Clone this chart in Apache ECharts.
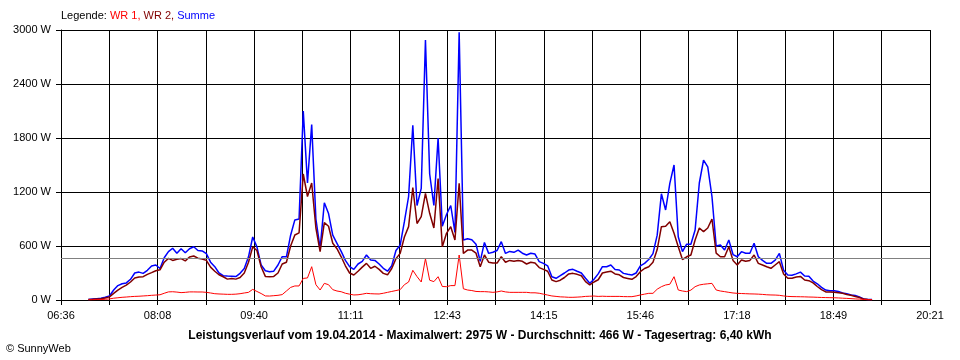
<!DOCTYPE html>
<html><head><meta charset="utf-8">
<script src="https://cdn.jsdelivr.net/npm/echarts@6/dist/echarts.min.js"></script>
<style>html,body{margin:0;padding:0;background:#fff}#c{width:960px;height:360px}</style>
</head><body><div id="c"></div>
<script>
// X axis: 06:36 .. 20:21, 18 grid steps, every second one labelled
const xTickLabels = ['06:36','08:08','09:40','11:11','12:43','14:15','15:46','17:18','18:49','20:21'];
const axisStartMin = 396;   // 06:36
const axisEndMin = 1221;    // 20:21
const axisSteps = 18;

// samples: every 4 minutes starting at 07:02
const sampleStartMin = 422;
const sampleStepMin = 4;

const seriesNames = ['WR 1', 'WR 2', 'Summe'];

const summe = [
  5,10,15,20,30,45,111,160,180,190,
  230,300,310,296,330,378,389,350,470,537,
  575,520,570,525,570,592,550,545,515,420,
  370,300,270,267,265,260,296,350,480,700,
  590,390,325,315,320,389,481,480,720,890,
  900,2100,1300,1950,900,574,1080,960,720,630,
  540,440,370,340,400,430,500,444,440,400,
  352,320,380,550,610,870,1150,1940,1050,1240,
  2890,1400,1050,1800,820,950,1050,750,2975,667,
  680,670,620,430,640,518,530,550,648,518,
  540,530,555,520,500,520,510,426,407,380,
  259,241,270,300,333,341,320,300,241,185,
  230,290,370,370,389,340,333,296,285,278,
  300,380,407,450,515,720,1180,1000,1296,1500,
  703,537,620,620,778,1300,1555,1480,1150,600,
  611,555,667,505,481,537,520,520,630,481,
  440,407,407,444,518,330,278,275,290,310,
  267,265,210,180,140,110,104,104,95,78,
  70,56,50,35,12,6,5
];
const wr2 = [
  5,8,12,15,22,35,74,110,140,165,
  200,245,255,259,285,304,325,335,420,463,
  440,452,460,435,478,489,465,455,440,365,
  320,280,258,232,238,232,250,300,420,590,
  550,370,262,259,262,300,400,420,600,722,
  745,1400,1150,1300,800,537,860,820,630,570,
  480,380,300,278,320,365,407,352,375,340,
  296,280,350,460,518,700,815,1250,850,926,
  1185,963,800,1350,592,741,815,667,1296,518,
  555,555,520,370,500,420,410,410,481,420,
  440,430,440,430,400,420,410,360,340,320,
  222,204,220,250,290,296,285,270,204,167,
  200,225,300,310,320,290,280,250,240,230,
  260,315,350,370,420,560,815,820,870,741,
  592,450,480,500,667,800,760,800,900,520,
  481,481,592,440,389,444,430,440,500,407,
  389,370,352,389,426,290,241,241,255,262,
  222,215,190,150,115,90,88,85,80,74,
  62,52,40,28,10,5,4
];
const wr1 = [
  2,3,5,5,8,12,20,25,30,33,
  37,40,42,45,48,52,55,58,75,90,
  92,88,82,85,90,90,89,89,85,78,
  70,67,65,63,63,65,70,78,85,118,
  95,72,45,44,48,52,60,100,140,156,
  156,240,245,370,170,111,185,170,115,100,
  92,75,65,56,58,65,74,70,68,67,
  75,85,95,105,115,170,200,330,260,200,
  460,220,204,259,150,148,160,160,500,125,
  111,105,95,93,93,90,85,90,100,90,
  85,85,85,85,85,80,80,75,65,55,
  45,40,35,33,30,30,32,35,40,42,
  44,40,42,40,40,40,40,38,37,37,
  45,56,65,74,74,120,148,167,175,259,
  111,100,93,110,148,167,175,180,185,111,
  100,93,85,78,74,72,70,68,67,65,
  62,58,56,55,52,45,40,38,37,36,
  35,33,32,30,28,27,26,25,23,20,
  18,15,12,10,6,4,3
];

const averageW = 466;
const chartTitle = 'Leistungsverlauf vom 19.04.2014 - Maximalwert: 2975 W - Durchschnitt: 466 W - Tagesertrag: 6,40 kWh';
const copyrightText = '\u00A9 SunnyWeb';

const stepLen = (axisEndMin - axisStartMin) / axisSteps;
function toAxis(min) { return (min - axisStartMin) / stepLen; }
function build(values) {
  return values.map((v, i) => [toAxis(sampleStartMin + i * sampleStepMin), v]);
}

const FONT = 'Liberation Sans';
const chart = echarts.init(document.getElementById('c'), null, {renderer: 'canvas'});
chart.setOption({
  animation: false,
  backgroundColor: '#fff',
  title: [
    {
      left: 61, top: 10, padding: 0,
      text: '{k|Legende: }{a|' + seriesNames[0] + ', }{b|' + seriesNames[1] + ', }{c|' + seriesNames[2] + '}',
      textStyle: {
        fontSize: 11, fontFamily: FONT, fontWeight: 'normal',
        rich: {
          k: {color: '#000', fontSize: 11, fontFamily: FONT},
          a: {color: '#ff0000', fontSize: 11, fontFamily: FONT},
          b: {color: '#800000', fontSize: 11, fontFamily: FONT},
          c: {color: '#0000ff', fontSize: 11, fontFamily: FONT}
        }
      }
    },
    {
      left: 'center', top: 330, padding: 0,
      text: chartTitle,
      textStyle: {fontSize: 12, fontFamily: FONT, fontWeight: 'bold', color: '#000'}
    },
    {
      left: 6, top: 343, padding: 0,
      text: copyrightText,
      textStyle: {fontSize: 11, fontFamily: FONT, fontWeight: 'normal', color: '#000'}
    }
  ],
  grid: {left: 61, right: 30, top: 30, bottom: 60, containLabel: false},
  xAxis: {
    type: 'value', min: 0, max: axisSteps, interval: 1,
    axisLine: {show: true, onZero: false, lineStyle: {color: '#000', width: 1}},
    axisTick: {show: true, length: 5, lineStyle: {color: '#000', width: 1}},
    splitLine: {show: true, lineStyle: {color: '#000', width: 1}},
    axisLabel: {
      color: '#000', fontSize: 11, fontFamily: FONT, margin: 10,
      showMinLabel: true, showMaxLabel: true,
      formatter: function (v) {
        const r = Math.round(v);
        return r % 2 === 0 ? xTickLabels[r / 2] : '';
      }
    }
  },
  yAxis: {
    type: 'value', min: 0, max: 3000, interval: 600,
    axisLine: {show: true, lineStyle: {color: '#000', width: 1}},
    axisTick: {show: true, length: 5, lineStyle: {color: '#000', width: 1}},
    splitLine: {show: true, lineStyle: {color: '#000', width: 1}},
    axisLabel: {
      color: '#000', fontSize: 11, fontFamily: FONT, margin: 10,
      formatter: function (v) { return String(Math.round(v)) + ' W'; }
    }
  },
  series: [
    {
      name: seriesNames[2], type: 'line', data: build(summe), z: 2,
      symbol: 'none', showSymbol: false, smooth: false,
      lineStyle: {color: '#0000ff', width: 1.5}, itemStyle: {color: '#0000ff'},
      markLine: {
        silent: true, symbol: ['none', 'none'], label: {show: false},
        lineStyle: {color: '#808080', width: 1, type: 'solid'},
        data: [{yAxis: averageW}]
      }
    },
    {
      name: seriesNames[1], type: 'line', data: build(wr2), z: 3,
      symbol: 'none', showSymbol: false, smooth: false,
      lineStyle: {color: '#800000', width: 1.5}, itemStyle: {color: '#800000'}
    },
    {
      name: seriesNames[0], type: 'line', data: build(wr1), z: 4,
      symbol: 'none', showSymbol: false, smooth: false,
      lineStyle: {color: '#ff0000', width: 1}, itemStyle: {color: '#ff0000'}
    }
  ]
});
</script>
</body></html>
